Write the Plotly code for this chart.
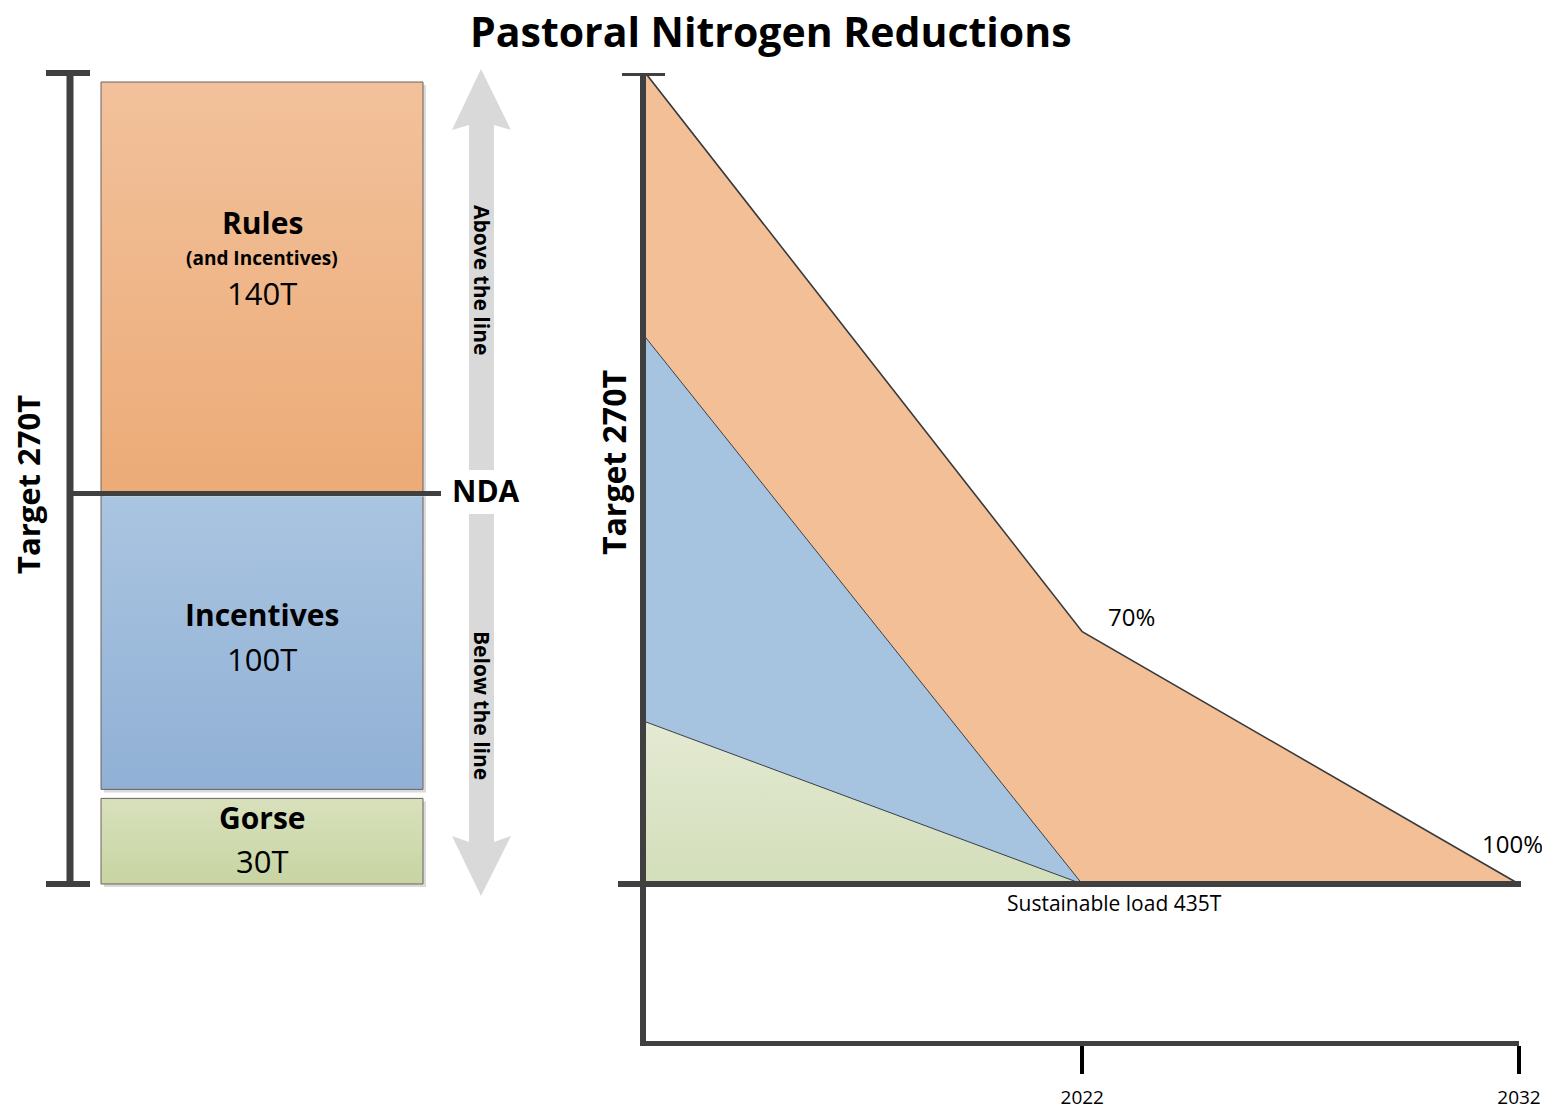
import plotly.graph_objects as go

# ---------------- data ----------------
box_labels = ["Gorse", "Incentives", "Rules"]
box_notes = ["", "", "(and Incentives)"]
box_values = [30, 100, 140]          # tonnes
target_total = 270

years = [2012, 2022, 2032]
rules_path = [270, 84, 0]            # remaining excess load
incent_years = [2012, 2022]
incent_path = [182, 0]
gorse_years = [2012, 2022]
gorse_path = [54, 0]
x_ticks = [2022, 2032]
pct_labels = ["70%", "100%"]
baseline_label = "Sustainable load 435T"
title = "Pastoral Nitrogen Reductions"
target_label = "Target 270T"
arrow_labels = ["Above the line", "Below the line"]
nda_label = "NDA"

# ---------------- style ----------------
FONT = "Open Sans"
DARK = "#404040"
ARROW = "#D9D9D9"
box_colors = [("#C8D4A2", "#D8E1BC"), ("#90B0D5", "#AAC5E1"), ("#ECAB77", "#F2C19B")]
bottom_pad = [0, 1.5, 0]
top_pad = [1.5, 0, 3]

# page body margin is 8px: the figure starts at (8, 8) and runs to the window edge
OX, OY = 8.0, 8.0
W, H = 1550 - int(OX), 1111 - int(OY)


def fx(x):
    return (x - OX) / W


def fy(y):
    return 1 - (y - OY) / H


# pixel frame of the left stack
S = (884 - 73) / target_total
L_BOT, L_TOP = 895, 66
BX0, BX1 = 101, 423
BS = BX1 - BX0

fig = go.Figure()

# ---- left: stacked boxes ----
cum = 0
nda_level = 0
for i, (lab, v) in enumerate(zip(box_labels, box_values)):
    b = cum + bottom_pad[i]
    t = cum + v - top_pad[i]
    cum += v
    if lab == "Incentives":
        nda_level = cum
    dx, dy = 3 / BS, 3 / S
    fig.add_trace(go.Scatter(
        x=[-0.5 + dx, 0.5 + dx, 0.5 + dx, -0.5 + dx, -0.5 + dx],
        y=[b - dy, b - dy, t - dy, t - dy, b - dy],
        fill="toself", fillcolor="#DADADA", line=dict(width=0),
        mode="lines", hoverinfo="skip", xaxis="x", yaxis="y"))
    c0, c1 = box_colors[i]
    fig.add_trace(go.Scatter(
        x=[-0.5, 0.5, 0.5, -0.5, -0.5], y=[b, b, t, t, b],
        fill="toself",
        fillgradient=dict(type="vertical", colorscale=[[0, c0], [1, c1]], start=b, stop=t),
        line=dict(color="#6A625C", width=1),
        mode="lines", hoverinfo="skip", xaxis="x", yaxis="y"))

# ---- right: reduction areas ----
fig.add_trace(go.Scatter(x=years, y=rules_path, fill="tozeroy", fillcolor="#F3BF96",
                         line=dict(color="#3A3A3A", width=1.6), mode="lines",
                         xaxis="x2", yaxis="y2", hoverinfo="skip"))
fig.add_trace(go.Scatter(x=incent_years, y=incent_path, fill="tozeroy", fillcolor="#A6C3DF",
                         line=dict(color="#3A3F48", width=1), mode="lines",
                         xaxis="x2", yaxis="y2", hoverinfo="skip"))
fig.add_trace(go.Scatter(x=gorse_years, y=gorse_path, fill="tozeroy",
                         fillgradient=dict(type="vertical",
                                           colorscale=[[0, "#D3DEBA"], [1, "#E4EAD3"]],
                                           start=0, stop=max(gorse_path)),
                         line=dict(color="#3A3F48", width=1), mode="lines",
                         xaxis="x2", yaxis="y2", hoverinfo="skip"))

# ---------------- shapes ----------------
shapes = []
shapes.append(dict(type="line", xref="paper", yref="y", x0=fx(70), x1=fx(70), y0=0, y1=target_total,
                   line=dict(color=DARK, width=7)))
for yv in (0, target_total):
    shapes.append(dict(type="line", xref="paper", yref="y", x0=fx(46), x1=fx(90), y0=yv, y1=yv,
                       line=dict(color=DARK, width=6)))
shapes.append(dict(type="line", xref="paper", yref="y", x0=fx(70), x1=fx(441), y0=nda_level, y1=nda_level,
                   line=dict(color=DARK, width=5)))


def poly(pts):
    return "M " + " L ".join(f"{fx(x):.5f},{fy(y):.5f}" for x, y in pts) + " Z"


top_arrow = [(481, 69), (511, 130), (494, 125), (494, 470), (469, 470), (469, 125), (452, 130)]
bot_arrow = [(469, 514), (494, 514), (494, 842), (511, 836), (481, 896), (452, 836), (469, 842)]
for pts in (top_arrow, bot_arrow):
    shapes.append(dict(type="path", xref="paper", yref="paper", path=poly(pts),
                       fillcolor=ARROW, line=dict(width=0), layer="below"))

shapes.append(dict(type="line", xref="paper", yref="y2", x0=fx(622), x1=fx(665), y0=target_total, y1=target_total,
                   line=dict(color=DARK, width=6)))
shapes.append(dict(type="line", xref="paper", yref="y2", x0=fx(618), x1=fx(1521), y0=0, y1=0,
                   line=dict(color=DARK, width=6)))

# ---------------- annotations ----------------
ann = []


def txt(text, x, y, size, bold=False, angle=0):
    ann.append(dict(text=f"<b>{text}</b>" if bold else text, xref="paper", yref="paper",
                    x=fx(x), y=fy(y), xanchor="center", yanchor="middle", textangle=angle,
                    showarrow=False, font=dict(size=size, color="black", family=FONT)))


txt(title, 771, 31, 41, bold=True)
txt(target_label, 28, 485, 31, bold=True, angle=-90)
txt(target_label, 613, 463, 32, bold=True, angle=-90)

lab_pix = {"Gorse": (817, 861), "Incentives": (614, 659), "Rules": (223, 293)}
for i, (lab, v) in enumerate(zip(box_labels, box_values)):
    y_lab, y_val = lab_pix[lab]
    txt(lab, 262, y_lab, 30, bold=True)
    txt(f"{v}T", 262, y_val, 31)
    if box_notes[i]:
        txt(box_notes[i], 262, 258, 19, bold=True)

txt(nda_label, 486, 491, 30, bold=True)
txt(arrow_labels[0], 482, 280, 21, bold=True, angle=90)
txt(arrow_labels[1], 482, 705, 21, bold=True, angle=90)

ann.append(dict(text=pct_labels[0], x=years[1], y=rules_path[1], xref="x2", yref="y2",
                xanchor="left", yanchor="middle", xshift=24, yshift=15, showarrow=False,
                font=dict(size=24, color="black", family=FONT)))
ann.append(dict(text=pct_labels[1], x=years[2], y=rules_path[2], xref="x2", yref="y2",
                xanchor="center", yanchor="middle", xshift=-7, yshift=41, showarrow=False,
                font=dict(size=24, color="black", family=FONT)))
ann.append(dict(text=baseline_label, x=years[1], y=0, xref="x2", yref="y2",
                xanchor="center", yanchor="middle", xshift=32, yshift=-19, showarrow=False,
                font=dict(size=21, color="black", family=FONT)))

R_BOT = 1040.5
y2_lo = -(R_BOT - 884) / S
fig.update_layout(
    width=W, height=H, autosize=False, margin=dict(l=0, r=0, t=0, b=0, pad=0),
    paper_bgcolor="white", plot_bgcolor="rgba(0,0,0,0)", showlegend=False,
    xaxis=dict(domain=[fx(95), fx(430)], range=[-0.5 - 6 / BS, 0.5 + 7 / BS], visible=False),
    yaxis=dict(domain=[fy(L_BOT), fy(L_TOP)], range=[-(L_BOT - 884) / S, target_total + (73 - L_TOP) / S],
               visible=False),
    xaxis2=dict(domain=[fx(645.5), fx(1519)], range=[years[0], years[-1]], anchor="y2",
                showline=True, linewidth=5, linecolor=DARK, ticks="outside", tickvals=x_ticks,
                ticklen=28, tickwidth=4, tickcolor="black", showgrid=False, zeroline=False,
                ticklabelstandoff=8, automargin=False,
                tickfont=dict(size=19, color="black", family=FONT)),
    yaxis2=dict(domain=[fy(R_BOT), fy(73)], range=[y2_lo, target_total], anchor="x2",
                showline=True, linewidth=6, linecolor=DARK, showticklabels=False, ticks="",
                showgrid=False, zeroline=False, automargin=False),
    shapes=shapes, annotations=ann,
)

fig.write_html("out.html", config={"responsive": False, "displayModeBar": False})
